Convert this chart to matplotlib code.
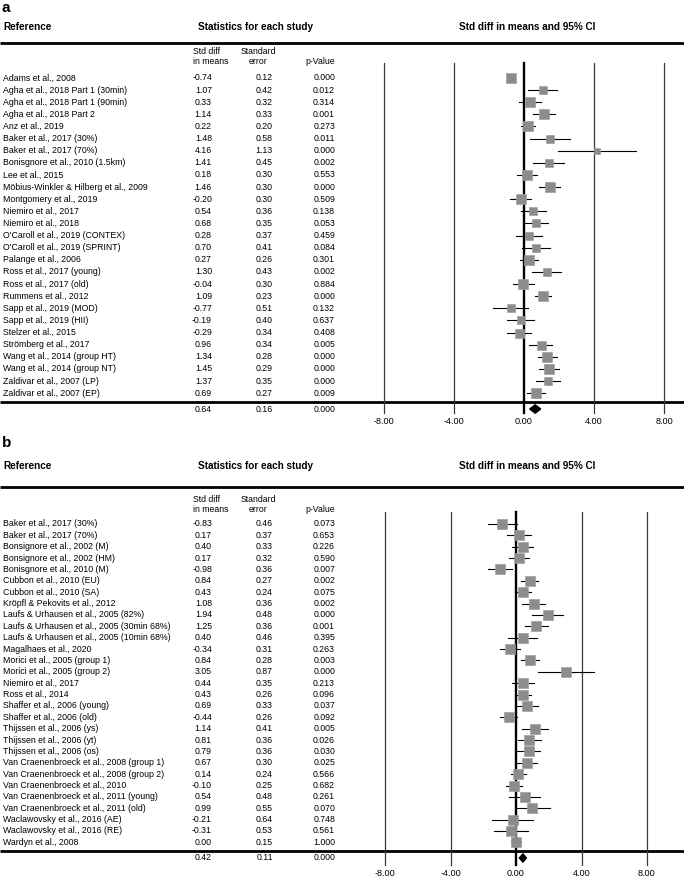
import matplotlib
matplotlib.use('Agg')
import matplotlib.pyplot as plt
from matplotlib.transforms import blended_transform_factory

plt.rcParams['font.family'] = ['Liberation Sans', 'DejaVu Sans']

# panel a data
studies_a = ["Adams et al., 2008", "Agha et al., 2018 Part 1 (30min)", "Agha et al., 2018 Part 1 (90min)",
             "Agha et al., 2018 Part 2", "Anz et al., 2019", "Baker et al., 2017 (30%)",
             "Baker et al., 2017 (70%)", "Bonisgnore et al., 2010 (1.5km)", "Lee et al., 2015",
             "Möbius-Winkler & Hilberg et al., 2009", "Montgomery et al., 2019", "Niemiro et al., 2017",
             "Niemiro et al., 2018", "O'Caroll et al., 2019 (CONTEX)", "O'Caroll et al., 2019 (SPRINT)",
             "Palange et al., 2006", "Ross et al., 2017 (young)", "Ross et al., 2017 (old)",
             "Rummens et al., 2012", "Sapp et al., 2019 (MOD)", "Sapp et al., 2019 (HII)",
             "Stelzer et al., 2015", "Strömberg et al., 2017", "Wang et al., 2014 (group HT)",
             "Wang et al., 2014 (group NT)", "Zaldivar et al., 2007 (LP)", "Zaldivar et al., 2007 (EP)"]
smd_a = [-0.74, 1.07, 0.33, 1.14, 0.22, 1.48, 4.16, 1.41, 0.18, 1.46, -0.20, 0.54, 0.68, 0.28, 0.70,
         0.27, 1.30, -0.04, 1.09, -0.77, -0.19, -0.29, 0.96, 1.34, 1.45, 1.37, 0.69]
se_a = [0.12, 0.42, 0.32, 0.33, 0.20, 0.58, 1.13, 0.45, 0.30, 0.30, 0.30, 0.36, 0.35, 0.37, 0.41,
        0.26, 0.43, 0.30, 0.23, 0.51, 0.40, 0.34, 0.34, 0.28, 0.29, 0.35, 0.27]
p_a = ["0.000", "0.012", "0.314", "0.001", "0.273", "0.011", "0.000", "0.002", "0.553", "0.000",
       "0.509", "0.138", "0.053", "0.459", "0.084", "0.301", "0.002", "0.884", "0.000", "0.132",
       "0.637", "0.408", "0.005", "0.000", "0.000", "0.000", "0.009"]
pooled_a = (0.64, 0.16, "0.000")

# panel b data
studies_b = ["Baker et al., 2017 (30%)", "Baker et al., 2017 (70%)", "Bonsignore et al., 2002 (M)",
             "Bonsignore et al., 2002 (HM)", "Bonisgnore et al., 2010 (M)", "Cubbon et al., 2010 (EU)",
             "Cubbon et al., 2010 (SA)", "Kröpfl & Pekovits et al., 2012", "Laufs & Urhausen et al., 2005 (82%)",
             "Laufs & Urhausen et al., 2005 (30min 68%)", "Laufs & Urhausen et al., 2005 (10min 68%)",
             "Magalhaes et al., 2020", "Morici et al., 2005 (group 1)", "Morici et al., 2005 (group 2)",
             "Niemiro et al., 2017", "Ross et al., 2014", "Shaffer et al., 2006 (young)",
             "Shaffer et al., 2006 (old)", "Thijssen et al., 2006 (ys)", "Thijssen et al., 2006 (yt)",
             "Thijssen et al., 2006 (os)", "Van Craenenbroeck et al., 2008 (group 1)",
             "Van Craenenbroeck et al., 2008 (group 2)", "Van Craenenbroeck et al., 2010",
             "Van Craenenbroeck et al., 2011 (young)", "Van Craenenbroeck et al., 2011 (old)",
             "Waclawovsky et al., 2016 (AE)", "Waclawovsky et al., 2016 (RE)", "Wardyn et al., 2008"]
smd_b = [-0.83, 0.17, 0.40, 0.17, -0.98, 0.84, 0.43, 1.08, 1.94, 1.25, 0.40, -0.34, 0.84, 3.05, 0.44,
         0.43, 0.69, -0.44, 1.14, 0.81, 0.79, 0.67, 0.14, -0.10, 0.54, 0.99, -0.21, -0.31, 0.00]
se_b = [0.46, 0.37, 0.33, 0.32, 0.36, 0.27, 0.24, 0.36, 0.48, 0.36, 0.46, 0.31, 0.28, 0.87, 0.35,
        0.26, 0.33, 0.26, 0.41, 0.36, 0.36, 0.30, 0.24, 0.25, 0.48, 0.55, 0.64, 0.53, 0.15]
p_b = ["0.073", "0.653", "0.226", "0.590", "0.007", "0.002", "0.075", "0.002", "0.000", "0.001",
       "0.395", "0.263", "0.003", "0.000", "0.213", "0.096", "0.037", "0.092", "0.005", "0.026",
       "0.030", "0.025", "0.566", "0.682", "0.261", "0.070", "0.748", "0.561", "1.000"]
pooled_b = (0.42, 0.11, "0.000")

ticks = [-8, -4, 0, 4, 8]

W, H = 684, 880
fig = plt.figure(figsize=(W / 100, H / 100), dpi=100)
bg = fig.add_axes([0, 0, 1, 1])
bg.set_xlim(0, W)
bg.set_ylim(H, 0)
bg.axis('off')

FS = 6.3
HFS = 7.2


def draw_panel(letter, studies, smd, se, pvals, pooled, lay, tau2, base_px):
    # lay: pixel layout of the panel (y positions from top, x of 0 and 8 on the scale)
    n = len(studies)
    row0, step = lay['row0'], lay['step']

    def row(y):
        return (y - row0) / step

    bg.text(2, lay['letter'], letter, fontsize=11, fontweight='bold', va='center', ha='left')
    hy = lay['head']
    bg.text(3, hy, "Reference", fontsize=HFS, fontweight='bold', va='center')
    bg.text(256, hy, "Statistics for each study", fontsize=HFS, fontweight='bold', va='center', ha='center')
    bg.text(527, hy, "Std diff in means and 95% CI", fontsize=HFS, fontweight='bold', va='center', ha='center')
    bg.plot([0, W], [lay['line'], lay['line']], color='black', lw=2.0, solid_capstyle='butt')

    sy = lay['sub']
    bg.text(193, sy, "Std diff", fontsize=FS, va='center', ha='left')
    bg.text(193, sy + 9.5, "in means", fontsize=FS, va='center', ha='left')
    bg.text(258, sy, "Standard", fontsize=FS, va='center', ha='center')
    bg.text(258, sy + 9.5, "error", fontsize=FS, va='center', ha='center')
    bg.text(335, sy + 9.5, "p-Value", fontsize=FS, va='center', ha='right')

    # forest axes, x in effect units, y in row units
    x0, x8 = lay['x0'], lay['x8']
    xs = 2 * x0 - x8
    gt, gb = lay['grid_top'], lay['grid_bot']
    ax = fig.add_axes([xs / W, 1 - gb / H, (x8 - xs) / W, (gb - gt) / H])
    ax.patch.set_visible(False)
    ax.set_xlim(-8, 8)
    ax.set_ylim(row(gb), row(gt))
    for s in ax.spines.values():
        s.set_visible(False)
    ax.set_yticks([])
    ax.set_xticks(ticks)
    ax.set_xticklabels(["%.2f" % t for t in ticks], fontsize=6.6)
    ax.tick_params(axis='x', length=0, pad=3)
    for t in ticks:
        ax.axvline(t, color='black' if t == 0 else '#3a3a3a', lw=1.7 if t == 0 else 0.9,
                   zorder=1, clip_on=False)

    tr = blended_transform_factory(bg.transData, ax.transData)
    weights = [1.0 / (s ** 2 + tau2) for s in se]
    wmid = sorted(weights)[len(weights) // 2]
    for i in range(n):
        bg.text(3, i, studies[i], transform=tr, fontsize=FS, va='center')
        bg.text(212, i, "%.2f" % smd[i], transform=tr, fontsize=FS, va='center', ha='right')
        bg.text(273, i, "%.2f" % se[i], transform=tr, fontsize=FS, va='center', ha='right')
        bg.text(335, i, pvals[i], transform=tr, fontsize=FS, va='center', ha='right')
        lo = smd[i] - 1.96 * se[i]
        hi = smd[i] + 1.96 * se[i]
        ax.plot([lo, hi], [i, i], color='black', lw=0.8, zorder=2, clip_on=False)
        side = base_px * (weights[i] / wmid) ** 0.5 * 0.72
        ax.plot(smd[i], i, marker='s', ms=side, mfc='#8c8c8c', mec='#a0a0a0', mew=0.5,
                zorder=3, clip_on=False)

    bg.plot([0, W], [lay['bottom'], lay['bottom']], color='black', lw=2.0, solid_capstyle='butt')

    est, sse, pp = pooled
    si = row(lay['summary'])
    bg.text(212, si, "%.2f" % est, transform=tr, fontsize=FS, va='center', ha='right')
    bg.text(273, si, "%.2f" % sse, transform=tr, fontsize=FS, va='center', ha='right')
    bg.text(335, si, pp, transform=tr, fontsize=FS, va='center', ha='right')
    lo = est - 1.96 * sse
    hi = est + 1.96 * sse
    hh = 4.2 / step
    ax.fill([lo, est, hi, est], [si, si - hh, si, si + hh], color='black', zorder=4, clip_on=False)


layout_a = dict(letter=8, head=27, line=43, sub=52, row0=78, step=12.12, grid_top=63,
                bottom=402, summary=409, grid_bot=413, x0=524, x8=664)
layout_b = dict(letter=443, head=466, line=487, sub=500, row0=524, step=11.37, grid_top=512,
                bottom=851, summary=858, grid_bot=865, x0=516, x8=647)

draw_panel('a', studies_a, smd_a, se_a, p_a, pooled_a, layout_a, tau2=0.5, base_px=9)
draw_panel('b', studies_b, smd_b, se_b, p_b, pooled_b, layout_b, tau2=2.0, base_px=10.5)

fig.savefig('out.png', dpi=100)
